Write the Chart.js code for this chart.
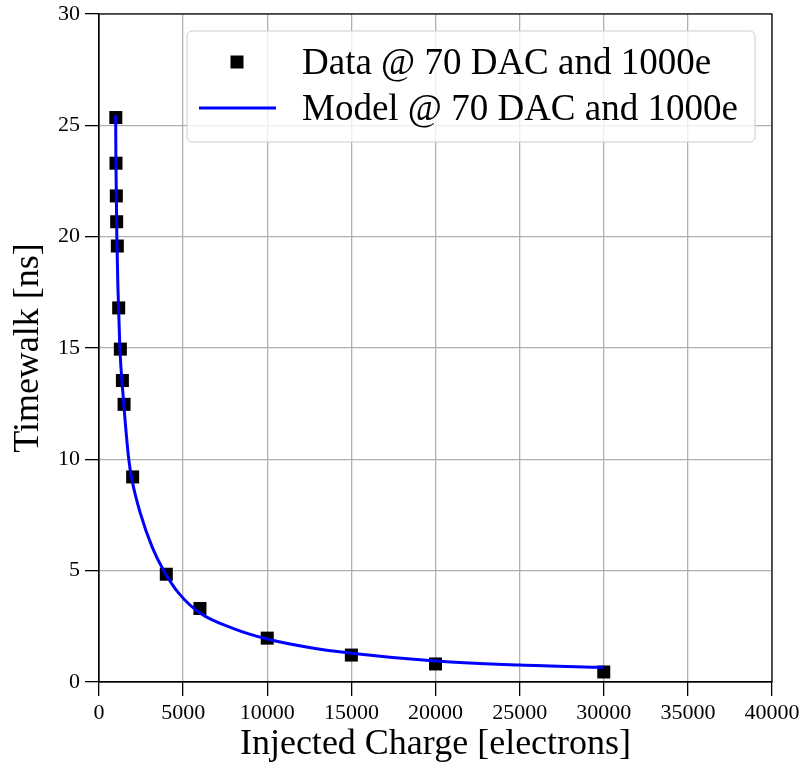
<!DOCTYPE html>
<html><head><meta charset="utf-8">
<script src="https://cdn.jsdelivr.net/npm/chart.js@4.4.0/dist/chart.umd.min.js"></script>
<style>html,body{margin:0;padding:0;background:#fff}canvas{display:block}</style>
</head><body>
<canvas id="c" width="806" height="766"></canvas>
<script>
// ---- data ----
const dataCharge    = [1000, 1010, 1030, 1050, 1090, 1170, 1270, 1390, 1490, 2000, 4000, 6000, 10000, 15000, 20000, 30000];
const dataTimewalk  = [25.35, 23.3, 21.83, 20.67, 19.58, 16.8, 14.95, 13.54, 12.47, 9.21, 4.84, 3.30, 1.97, 1.21, 0.81, 0.45];
const modelCharge   = [990, 1005, 1060, 1130, 1240, 1430, 1770, 1965, 2465, 3155, 3850, 4750, 6000, 8000, 10000, 12500, 15000, 20000, 25000, 30000];
const modelTimewalk = [25.45, 23.5, 20.0, 17.6, 15.0, 12.9, 10.0, 9.06, 7.56, 6.07, 5.0, 3.98, 3.1, 2.4, 1.93, 1.55, 1.29, 0.94, 0.76, 0.66];
const xTickValues = [0, 5000, 10000, 15000, 20000, 25000, 30000, 35000, 40000];
const xTickLabels = ['0', '5000', '10000', '15000', '20000', '25000', '30000', '35000', '40000'];
const yTickValues = [0, 5, 10, 15, 20, 25, 30];
const yTickLabels = ['0', '5', '10', '15', '20', '25', '30'];
const seriesNames = ['Data @ 70 DAC and 1000e', 'Model @ 70 DAC and 1000e'];
const axisTitles = { x: 'Injected Charge [electrons]', y: 'Timewalk [ns]' };

const FONT = '"Liberation Serif", "Times New Roman", serif';

const frameAndLegend = {
  id: 'frameAndLegend',
  afterDraw(chart) {
    const { ctx, chartArea: a } = chart;
    ctx.save();
    // full box frame (top/right spines)
    ctx.strokeStyle = '#000';
    ctx.lineWidth = 1.2;
    ctx.strokeRect(a.left, a.top, a.right - a.left, a.bottom - a.top);
    // legend box
    const bx = a.right - 585, by = a.top + 17, bw = 568, bh = 111, r = 5;
    ctx.beginPath();
    ctx.moveTo(bx + r, by);
    ctx.arcTo(bx + bw, by, bx + bw, by + bh, r);
    ctx.arcTo(bx + bw, by + bh, bx, by + bh, r);
    ctx.arcTo(bx, by + bh, bx, by, r);
    ctx.arcTo(bx, by, bx + bw, by, r);
    ctx.closePath();
    ctx.fillStyle = 'rgba(255,255,255,0.8)';
    ctx.fill();
    ctx.strokeStyle = '#cccccc';
    ctx.lineWidth = 1;
    ctx.stroke();
    // entries
    const ds0 = chart.data.datasets[0], ds1 = chart.data.datasets[1];
    const sx = bx + 50, row1 = by + 31, row2 = by + 77;
    ctx.fillStyle = ds0.backgroundColor;
    ctx.fillRect(sx - 6.5, row1 - 6.5, 13, 13);
    ctx.strokeStyle = ds1.borderColor;
    ctx.lineWidth = ds1.borderWidth;
    ctx.beginPath();
    ctx.moveTo(bx + 12, row2);
    ctx.lineTo(bx + 89, row2);
    ctx.stroke();
    ctx.fillStyle = '#000';
    ctx.font = '37px ' + FONT;
    ctx.textBaseline = 'alphabetic';
    ctx.textAlign = 'left';
    ctx.fillText(ds0.label, bx + 115, row1 + 12);
    ctx.fillText(ds1.label, bx + 115, row2 + 12);
    ctx.restore();
  }
};

new Chart(document.getElementById('c'), {
  type: 'line',
  data: {
    datasets: [
      {
        label: seriesNames[0],
        data: dataCharge.map((x, i) => ({ x, y: dataTimewalk[i] })),
        showLine: false,
        pointStyle: 'rect',
        pointRadius: 9.2,
        pointHoverRadius: 9.2,
        backgroundColor: '#000000',
        borderColor: '#000000',
        pointBorderWidth: 0,
        borderWidth: 0,
        order: 2
      },
      {
        label: seriesNames[1],
        data: modelCharge.map((x, i) => ({ x, y: modelTimewalk[i] })),
        borderColor: '#0000ff',
        backgroundColor: '#0000ff',
        borderWidth: 3,
        pointRadius: 0,
        fill: false,
        cubicInterpolationMode: 'monotone',
        order: 1
      }
    ]
  },
  options: {
    responsive: false,
    animation: false,
    layout: { padding: { top: 14, right: 34, left: 0, bottom: 0 } },
    plugins: { legend: { display: false }, tooltip: { enabled: false } },
    scales: {
      x: {
        type: 'linear', min: 0, max: 40000,
        afterBuildTicks(s) { s.ticks = xTickValues.map(v => ({ value: v })); },
        ticks: {
          font: { family: FONT, size: 22 }, color: '#000', padding: 4, maxRotation: 0, autoSkip: false,
          callback: (v, i) => xTickLabels[i]
        },
        grid: { color: '#b0b0b0', lineWidth: 1.3, tickColor: '#000', tickLength: 14, tickWidth: 1.3 },
        border: { color: '#000', width: 1.2 },
        title: { display: true, text: axisTitles.x, color: '#000', font: { family: FONT, size: 36, lineHeight: 1.2 }, padding: { top: 0, bottom: 0 } },
        afterFit(s) { s.height = 84; s.paddingLeft = 0; s.paddingRight = 0; }
      },
      y: {
        type: 'linear', min: 0, max: 30,
        afterBuildTicks(s) { s.ticks = yTickValues.map(v => ({ value: v })); },
        ticks: {
          font: { family: FONT, size: 22 }, color: '#000', padding: 5, autoSkip: false,
          callback: (v, i) => yTickLabels[i]
        },
        grid: { color: '#b0b0b0', lineWidth: 1.3, tickColor: '#000', tickLength: 14, tickWidth: 1.3 },
        border: { color: '#000', width: 1.2 },
        title: { display: true, text: axisTitles.y, color: '#000', font: { family: FONT, size: 36, lineHeight: 1.2 }, padding: { top: 7, bottom: 0 } },
        afterFit(s) { s.width = 99; s.paddingTop = 0; s.paddingBottom = 0; }
      }
    }
  },
  plugins: [frameAndLegend]
});
</script>
</body></html>
